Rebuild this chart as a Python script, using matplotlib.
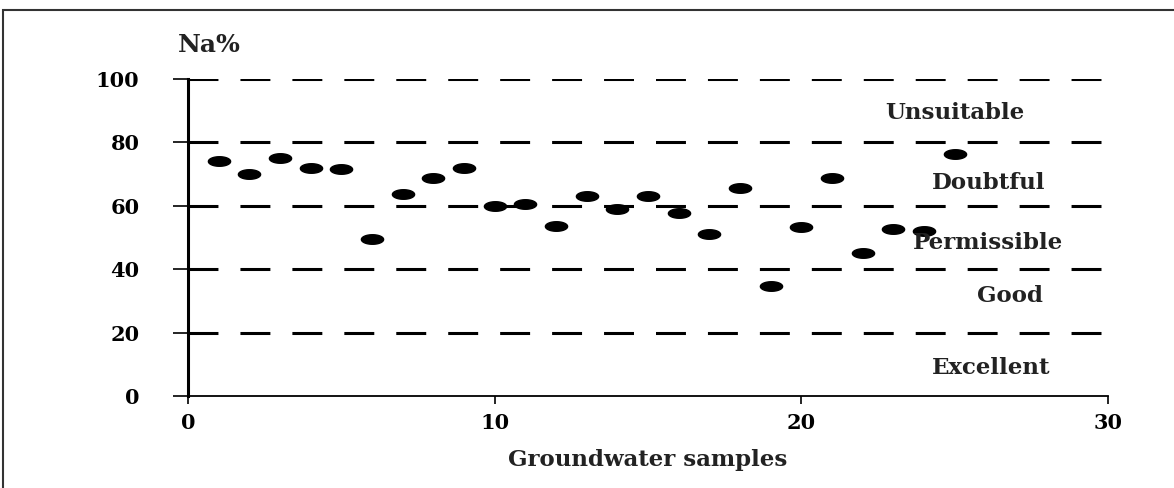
import numpy as np
import matplotlib
matplotlib.use("Agg")
import matplotlib.pyplot as plt
from matplotlib.path import Path
from matplotlib.patches import Rectangle

# Na% of each groundwater sample
samples = np.arange(1, 26)
na_pct = [74.2, 69.9, 75.2, 72.0, 71.5, 49.4, 63.6, 68.9, 72.0, 59.9,
          60.5, 53.7, 63.1, 58.9, 63.1, 57.8, 51.0, 65.7, 34.7, 53.2,
          68.9, 45.2, 52.6, 52.1, 76.2]

# class limits and labels
limits = [20, 40, 60, 80, 100]
classes = ["Unsuitable", "Doubtful", "Permissible", "Good", "Excellent"]
class_x = [25.0, 26.1, 26.1, 26.8, 26.2]
class_y = [89.3, 67.2, 48.3, 31.5, 8.8]

font = "DejaVu Serif"

fig = plt.figure(figsize=(11.74, 4.88), dpi=100)
ax = fig.add_axes([188/1174, 1 - 396/488, 920/1174, 317/488])

# outer frame
fig.patches.append(Rectangle((3/1174, -0.05), 1.2, 1 - 10/488 + 0.05,
                             transform=fig.transFigure, fill=False,
                             edgecolor="#333333", lw=1.5))

for lim in limits:
    ax.axhline(lim, color="black", lw=2.2, dashes=(9.8, 7.2), zorder=1)

# stretched dots, like in the original
t = np.linspace(0, 2*np.pi, 60)
ellipse = Path(np.column_stack([np.cos(t), 0.43*np.sin(t)]), closed=True)
ax.plot(samples, na_pct, ls="none", marker=ellipse, ms=16,
        color="black", zorder=3)

for name, x, y in zip(classes, class_x, class_y):
    ax.text(x, y, name, ha="center", va="center", fontsize=16.5,
            family=font, weight="bold", color="#222222")

ax.set_xlim(0, 30)
ax.set_ylim(0, 100)
ax.set_xticks([0, 10, 20, 30])
ax.set_yticks([0, 20, 40, 60, 80, 100])
for s in ["top", "right"]:
    ax.spines[s].set_visible(False)
ax.spines["left"].set_linewidth(2.2)
ax.spines["bottom"].set_linewidth(1.3)
ax.tick_params(axis="y", length=11, width=1.2, pad=24)
ax.tick_params(axis="x", length=6, width=1.2, pad=6)
for lab in ax.get_xticklabels() + ax.get_yticklabels():
    lab.set_family(font)
    lab.set_weight("bold")
    lab.set_fontsize(15)

ax.set_xlabel("Groundwater samples", family=font, weight="bold",
              fontsize=16.5, labelpad=12, color="#222222")
fig.text(178/1174, 1 - 45/488, "Na%", family=font, weight="bold",
         fontsize=18, va="center", ha="left", color="#222222")

fig.savefig("out.png", dpi=100)
